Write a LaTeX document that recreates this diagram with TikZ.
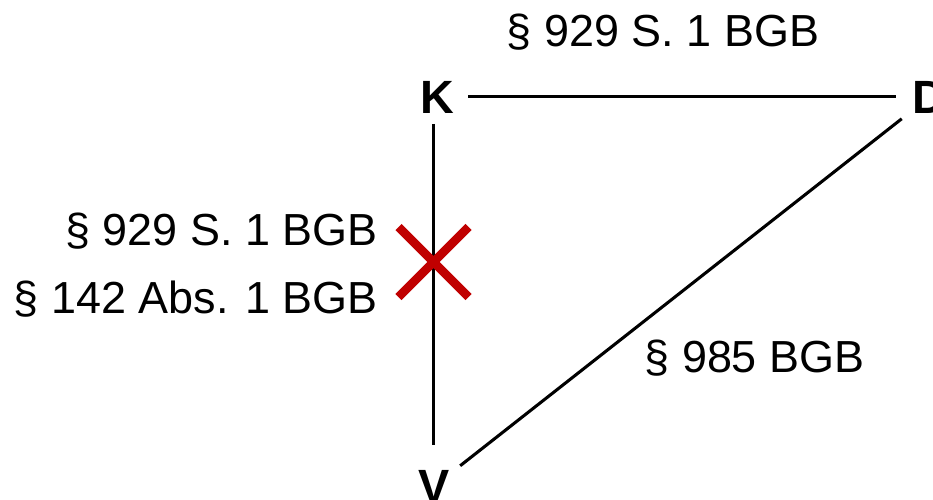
\documentclass[tikz,border=0pt]{standalone}
\usepackage{fontspec}
\setmainfont{Liberation Sans}
\begin{document}
\begin{tikzpicture}[x=0.75pt,y=-0.75pt,
  lbl/.style={inner sep=0pt,font=\fontsize{33.7}{40}\selectfont},
  party/.style={inner sep=0pt,anchor=base,font=\fontsize{35}{40}\selectfont\bfseries},
  conn/.style={line width=2.3pt},
  cross/.style={line width=6.5pt,draw={rgb,255:red,192;green,0;blue,0}}]
\useasboundingbox (0,0) rectangle (933,500);
\node[party] (K) at (437,113) {K};
\node[party] (D) at (929.5,113) {D};
\node[party] (V) at (434.5,502) {V};
\coordinate (X) at (433.5,262);
\draw[conn,shorten <=23.25pt,shorten >=25.5pt] (K.center) -- (D.center);
\draw[conn,shorten <=20.25pt,shorten >=30.75pt] (K.center -| X) -- (V.center -| X);
\draw[conn,shorten <=26.5pt,shorten >=24.5pt] (D.center) -- (V.center);
\node[lbl,anchor=base] (t1) at (663,46) {§ 929 S. 1 BGB};
\node[lbl,anchor=base east] (l1) at (378,245) {§ 929 S. 1 BGB};
\node[lbl,anchor=base east] (l2) at (378,313) {§ 142 Abs. 1 BGB};
\node[lbl,anchor=base] (r1) at (754.5,372) {§ 985 BGB};
\draw[cross] ([shift={(-35,-35)}]X) -- ([shift={(35,35)}]X);
\draw[cross] ([shift={(-35,35)}]X) -- ([shift={(35,-35)}]X);
\end{tikzpicture}
\end{document}
